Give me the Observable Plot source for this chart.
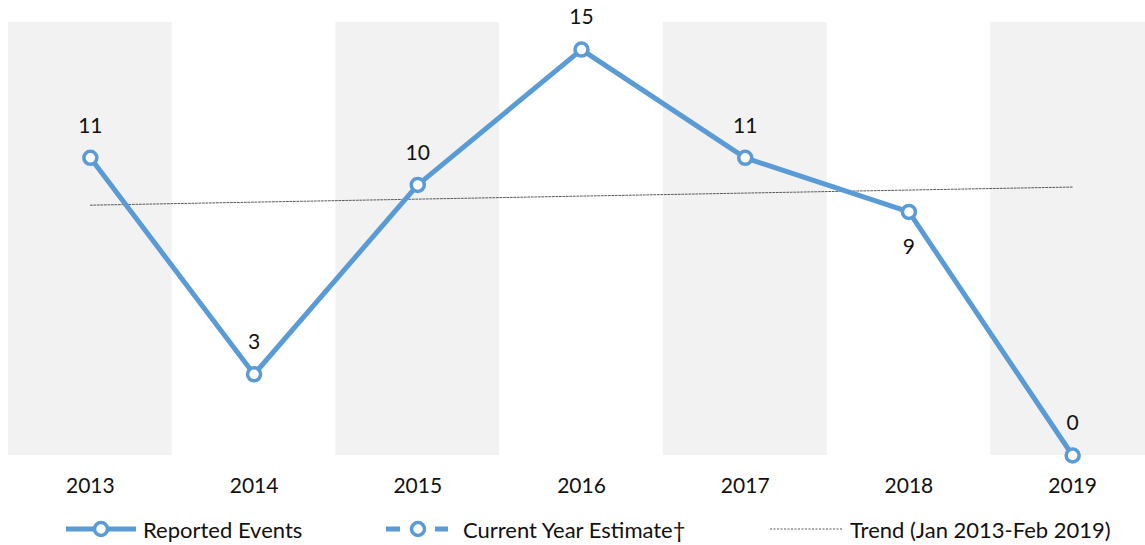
<!DOCTYPE html>
<html>
<head>
<meta charset="utf-8">
<script src="https://cdn.jsdelivr.net/npm/d3@7"></script>
<script src="https://cdn.jsdelivr.net/npm/@observablehq/plot@0.6"></script>
<style>
  html, body { margin: 0; padding: 0; background: #fff; overflow: hidden; }
  body { width: 1145px; height: 545px; position: relative; font-family: Lato, "Open Sans", sans-serif; }
  #chart svg { overflow: visible; display: block; }
  .leg { position: absolute; top: 516px; height: 26px; display: flex; align-items: center; font-size: 22px; color: #111; white-space: nowrap; }
  .leg svg { display: block; }
</style>
</head>
<body>
<div id="chart"></div>
<div class="leg" style="left:64px"><svg width="74" height="20"><line x1="2" x2="72" y1="10" y2="10" stroke="#5b9bd5" stroke-width="5"/><circle cx="37" cy="10" r="6.5" fill="#fff" stroke="#5b9bd5" stroke-width="3.5"/></svg><span style="margin-left:5px">Reported Events</span></div>
<div class="leg" style="left:384px"><svg width="66" height="20"><line x1="2" x2="16" y1="10" y2="10" stroke="#5b9bd5" stroke-width="5"/><line x1="51" x2="64" y1="10" y2="10" stroke="#5b9bd5" stroke-width="5"/><circle cx="34" cy="10" r="6.5" fill="#fff" stroke="#5b9bd5" stroke-width="3.5"/></svg><span style="margin-left:13px">Current Year Estimate†</span></div>
<div class="leg" style="left:770px"><svg width="74" height="20"><line x1="0" x2="73" y1="10" y2="10" stroke="#595959" stroke-width="1" stroke-dasharray="2,1.5"/></svg><span style="margin-left:6px">Trend (Jan 2013-Feb 2019)</span></div>
<script>
const years = ["2013", "2014", "2015", "2016", "2017", "2018", "2019"];
const reported = [11, 3, 10, 15, 11, 9, 0];
const labelPlacement = ["above", "above", "above", "above", "above", "below", "above"];
const shadedYears = ["2013", "2015", "2017", "2019"];
const trendYears = ["2013", "2019"];
const trendValues = [9.25, 9.92];
const yMax = 16;

const data = years.map((y, i) => ({year: y, value: reported[i], place: labelPlacement[i]}));
const trend = trendYears.map((y, i) => ({year: y, value: trendValues[i]}));
const blue = "#5b9bd5";

const chart = Plot.plot({
  width: 1145,
  height: 505,
  marginTop: 22,
  marginBottom: 50,
  marginLeft: 8,
  marginRight: 0,
  style: {fontFamily: "Lato, 'Open Sans', sans-serif", fontSize: "21px", color: "#111", background: "#fff"},
  x: {type: "band", domain: years, range: [8, 1154], padding: 0, round: false, label: null},
  y: {domain: [0, yMax], axis: null},
  marks: [
    Plot.barY(shadedYears, {x: d => d, y1: 0, y2: yMax, fill: "#f2f2f2", inset: 0}),
    Plot.axisX({tickSize: 0, tickPadding: 23, fontSize: 21, label: null}),
    Plot.line(trend, {x: "year", y: "value", stroke: "#595959", strokeWidth: 1, strokeDasharray: "2,1.5"}),
    Plot.line(data, {x: "year", y: "value", stroke: blue, strokeWidth: 5}),
    Plot.dot(data, {x: "year", y: "value", r: 6.5, fill: "#fff", stroke: blue, strokeWidth: 3.5}),
    Plot.text(data.filter(d => d.place === "above"), {x: "year", y: "value", text: d => String(d.value), dy: -32, fontSize: 21, fill: "#111"}),
    Plot.text(data.filter(d => d.place === "below"), {x: "year", y: "value", text: d => String(d.value), dy: 35, fontSize: 21, fill: "#111"})
  ]
});
document.getElementById("chart").appendChild(chart);
</script>
</body>
</html>
